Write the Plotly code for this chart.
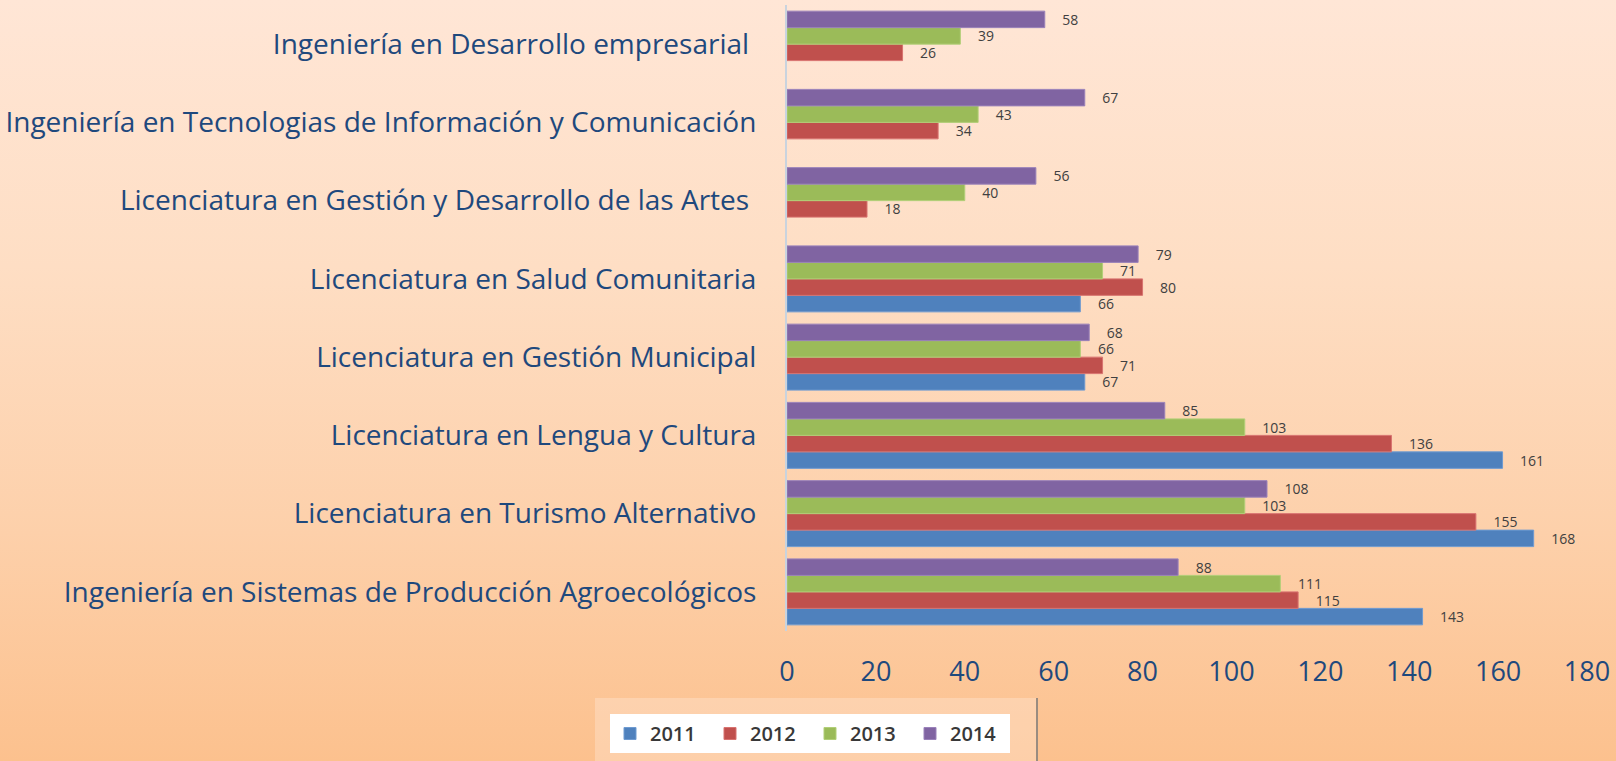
import base64
import plotly.graph_objects as go

# Data (categories bottom-to-top)
categories = [
    "Ingeniería en Sistemas de Producción Agroecológicos",
    "Licenciatura en Turismo Alternativo",
    "Licenciatura en Lengua y Cultura",
    "Licenciatura en Gestión Municipal",
    "Licenciatura en Salud Comunitaria",
    "Licenciatura en Gestión y Desarrollo de las Artes ",
    "Ingeniería en Tecnologias de Información y Comunicación",
    "Ingeniería en Desarrollo empresarial ",
]
years = ["2011", "2012", "2013", "2014"]
v2011 = [143, 168, 161, 67, 66, None, None, None]
v2012 = [115, 155, 136, 71, 80, 18, 34, 26]
v2013 = [111, 103, 103, 66, 71, 40, 43, 39]
v2014 = [88, 108, 85, 68, 79, 56, 67, 58]
x_ticks = [0, 20, 40, 60, 80, 100, 120, 140, 160, 180]

series = [v2011, v2012, v2013, v2014]
colors = ["#4F81BD", "#C0504D", "#9BBB59", "#8064A2"]
edge = ["#6F9BD1", "#D87370", "#B2CF78", "#9A82BA"]

W, H = 1616, 761
ML, MR, MT, MB = 787, 29, 5, 130

fig = go.Figure()
for name, vals, c, e in zip(years, series, colors, edge):
    fig.add_trace(go.Bar(
        y=categories, x=vals, name=name, orientation="h",
        marker=dict(color=c, line=dict(color=e, width=1)),
        text=vals, texttemplate="    %{x}", textposition="outside",
        constraintext="none",
        textfont=dict(family="Open Sans", size=14, color="#404040"),
        cliponaxis=False,
    ))

# gradient background as an SVG image
svg = ('<svg xmlns="http://www.w3.org/2000/svg" width="100" height="100" preserveAspectRatio="none">'
       '<defs><linearGradient id="g" x1="0" y1="0" x2="0" y2="1">'
       '<stop offset="0" stop-color="#FFE6D6"/>'
       '<stop offset="0.35" stop-color="#FEDEC4"/>'
       '<stop offset="0.7" stop-color="#FDD0AA"/>'
       '<stop offset="1" stop-color="#FCC18E"/>'
       '</linearGradient></defs>'
       '<rect x="0" y="0" width="100" height="100" fill="url(#g)"/></svg>')
src = "data:image/svg+xml;base64," + base64.b64encode(svg.encode()).decode()

pw = W - ML - MR
ph = H - MT - MB
def px_x(p):
    return (p - ML) / pw
def px_y(p):
    return (H - MB - p) / ph

fig.update_layout(
    width=W, height=H,
    margin=dict(l=ML, r=MR, t=MT, b=MB),
    paper_bgcolor="#FEDCC0",
    plot_bgcolor="rgba(0,0,0,0)",
    barmode="group",
    bargap=0.157,
    bargroupgap=0,
    showlegend=True,
    legend=dict(
        orientation="h",
        x=px_x(610), xanchor="left",
        y=px_y(714), yanchor="top",
        bgcolor="#FFFFFF",
        font=dict(family="Open Sans", size=20, color="#383838", weight=600),
        entrywidth=55, entrywidthmode="pixels",
        itemwidth=30,
        traceorder="normal",
    ),
    images=[dict(
        source=src, xref="paper", yref="paper",
        x=px_x(0), y=px_y(0), sizex=W / pw, sizey=H / ph,
        xanchor="left", yanchor="top", sizing="stretch", layer="below",
    )],
    shapes=[
        dict(type="rect", xref="paper", yref="paper",
             x0=px_x(595), x1=px_x(1037), y0=px_y(761), y1=px_y(698),
             fillcolor="rgba(255,235,220,0.35)", line=dict(width=0), layer="below"),
        dict(type="line", xref="paper", yref="paper",
             x0=px_x(1037), x1=px_x(1037), y0=px_y(761), y1=px_y(698),
             line=dict(color="#9A8C80", width=2)),
    ],
    xaxis=dict(
        range=[0, 180], tickvals=x_ticks, ticktext=[str(t) for t in x_ticks],
        showgrid=False, zeroline=False, showline=False,
        tickfont=dict(family="Open Sans", size=27, color="#1F497D"),
        ticklabelstandoff=22,
    ),
    yaxis=dict(
        type="category", categoryorder="array", categoryarray=categories,
        showgrid=False, showline=True, linecolor="#C9D3DE", linewidth=2,
        tickfont=dict(family="Open Sans", size=28, color="#1F497D"),
        ticklabelstandoff=23,
    ),
)

fig.write_html("out.html", config={"displayModeBar": False},
               post_script="document.body.style.margin='0';document.body.style.overflow='hidden';")
